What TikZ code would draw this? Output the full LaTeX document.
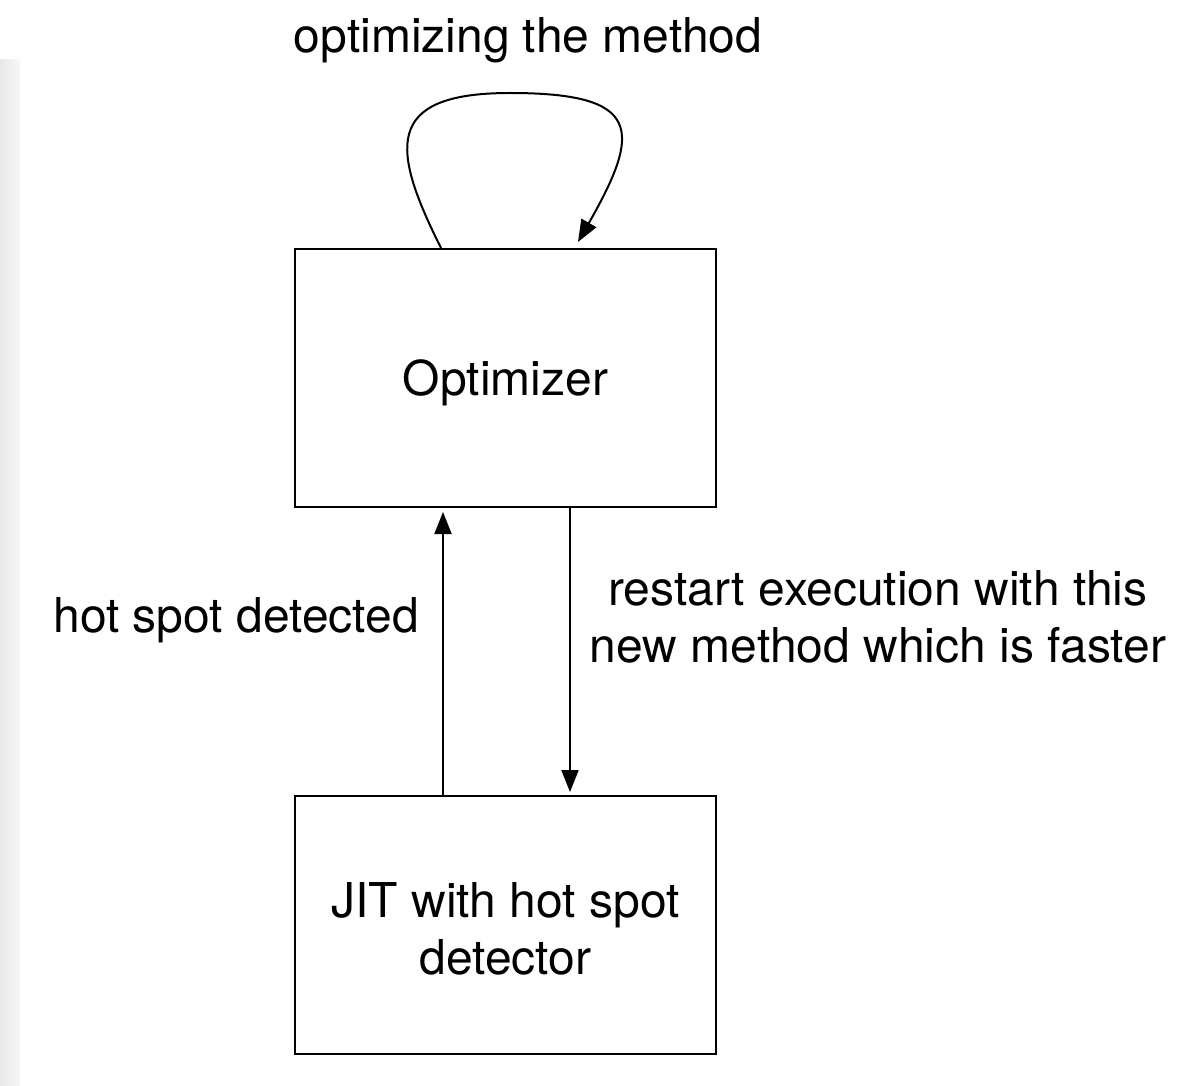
\documentclass[tikz,border=0pt]{standalone}
\usepackage{fontspec}
\setmainfont{TeX Gyre Heros}
\usetikzlibrary{arrows.meta}
\tikzset{
  box/.style={draw, line width=2pt, minimum width=421pt, minimum height=258pt,
    inner sep=0pt},
  lbl/.style={align=center, inner sep=0pt, font=\fontsize{48}{57}\selectfont},
  arr/.style={line width=2pt, -{Triangle[length=22pt,width=17pt]}},
}
\begin{document}
\begin{tikzpicture}[x=1pt,y=-1pt]
  \useasboundingbox (0,0) rectangle (1195,1086);
  % faint page edge on the left
  \shade[left color=black!9, right color=black!3] (0,60) rectangle (20,1086);

  \node[box] (opt) at (505.5,378) {};
  \node[box] (jit) at (505.5,925) {};
  \node[lbl] (optt) at ([yshift=-5pt]opt.center) {Optimizer};
  \node[lbl] (jitt) at ([yshift=-4pt]jit.center) {JIT with hot spot\\detector};

  \node[lbl] (loopl) at (528,40) {optimizing the method};
  \node[lbl] (hot) at (236,620) {hot spot detected};
  \node[lbl] (restart) at (878,617) {restart execution with this\\new method which is faster};

  % self loop on top of the optimizer
  \coordinate (ls) at ([xshift=-64.5pt]opt.north);
  \coordinate (le) at ([xshift=72.5pt,yshift=6pt]opt.north);
  \draw[arr] (ls) .. controls (392,150) and (382,93) .. (510,93)
                  .. controls (642,93) and (642,130) .. (le);

  % connections between the two boxes
  \draw[arr, shorten >=4pt] ([xshift=-62.5pt]jit.north) -- ([xshift=-62.5pt]opt.south);
  \draw[arr, shorten >=3pt] ([xshift=64.5pt]opt.south) -- ([xshift=64.5pt]jit.north);
\end{tikzpicture}
\end{document}
